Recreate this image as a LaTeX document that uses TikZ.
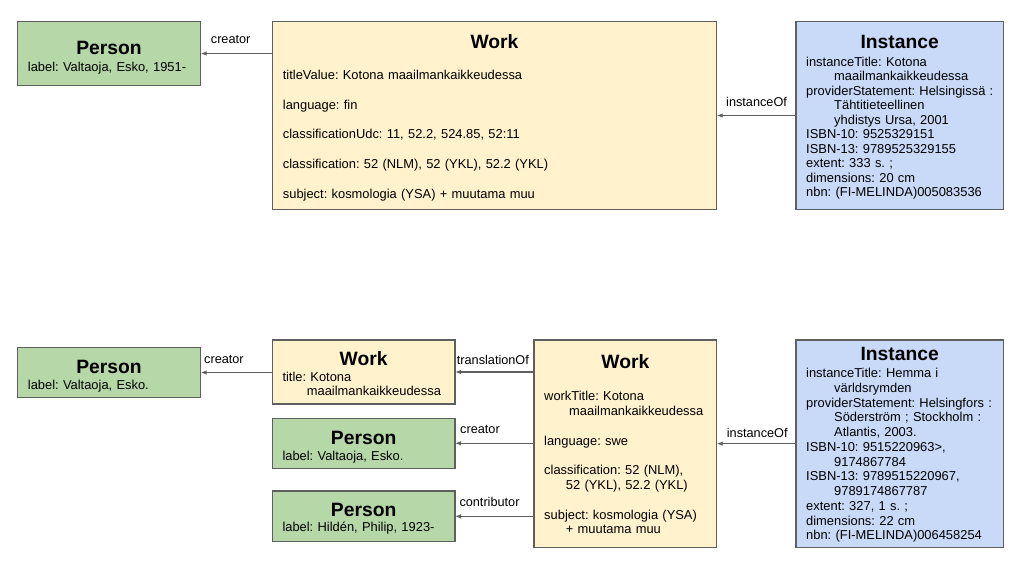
\documentclass[tikz,border=0pt]{standalone}
\usepackage{fontspec}
\setmainfont{Liberation Sans}
\usetikzlibrary{arrows.meta}
\definecolor{pgreen}{HTML}{B6D7A8}
\definecolor{wyellow}{HTML}{FFF2CC}
\definecolor{iblue}{HTML}{C9DAF8}
\definecolor{edgegray}{HTML}{5F5F5F}
\frenchspacing
\begin{document}
\frenchspacing
\begin{tikzpicture}[x=1pt,y=-1pt,
  box/.style={draw=edgegray, line width=1.1pt, rectangle, anchor=north west, inner sep=0pt, outer sep=0pt},
  ttl/.style={font=\fontsize{19.3}{22}\selectfont\bfseries, anchor=base, inner sep=0pt},
  body/.style={anchor=base west, inner sep=0pt, align=left},
  lbl/.style={font=\fontsize{12.7}{14}\selectfont, anchor=base west, inner sep=0pt},
  arr/.style={draw=edgegray, line width=1.1pt, -{Latex[length=6pt,width=4.5pt]}}
]
\useasboundingbox (0,0) rectangle (1024,576);
\fill[white] (0,0) rectangle (1024,576);

% ---------- top row ----------
\node[box, fill=pgreen, minimum width=183.4pt, minimum height=63.6pt] (p1) at (17.3,21.7) {};
\node[box, fill=wyellow, minimum width=444.4pt, minimum height=187.6pt] (w1) at (272.3,21.7) {};
\node[box, fill=iblue, minimum width=207.3pt, minimum height=187.6pt] (i1) at (796,21.7) {};

\node[ttl] (p1t) at (109,54.3) {Person};
\node[body, font=\fontsize{12.9}{14.6}\selectfont, text width=170pt] (p1b) at (27.7,71) {label: Valtaoja, Esko, 1951-};

\node[ttl] (w1t) at (494.5,48.3) {Work};
\node[body, font=\fontsize{12.9}{29.8}\selectfont, text width=420pt] (w1b) at (282.7,79.3)
  {titleValue: Kotona maailmankaikkeudessa\\
   language: fin\\
   classificationUdc: 11, 52.2, 524.85, 52:11\\
   classification: 52 (NLM), 52 (YKL), 52.2 (YKL)\\
   subject: kosmologia (YSA) + muutama muu};

\node[ttl] (i1t) at (899.65,48.3) {Instance};
\node[body, font=\fontsize{12.9}{14.52}\selectfont, text width=193pt] (i1b) at (806,66)
  {instanceTitle: Kotona\\
   \hspace*{28pt}maailmankaikkeudessa\\
   providerStatement: Helsingissä :\\
   \hspace*{28pt}Tähtitieteellinen\\
   \hspace*{28pt}yhdistys Ursa, 2001\\
   ISBN-10: 9525329151\\
   ISBN-13: 9789525329155\\
   extent: 333 s. ;\\
   dimensions: 20 cm\\
   nbn: (FI-MELINDA)005083536};

\draw[arr] (w1.west |- p1.east) -- (p1.east);
\draw[arr] (i1.west) -- (w1.east);
\node[lbl] (l1) at (210.7,43.3) {creator};
\node[lbl] (l2) at (726,106.7) {instanceOf};

% ---------- bottom row ----------
\node[box, fill=pgreen, minimum width=183.4pt, minimum height=50.4pt] (p2) at (17.3,347.3) {};
\node[box, fill=wyellow, minimum width=182.7pt, minimum height=64pt] (w2) at (272.3,340) {};
\node[box, fill=pgreen, minimum width=182.7pt, minimum height=50pt] (p3) at (272.3,418.3) {};
\node[box, fill=pgreen, minimum width=182.7pt, minimum height=50.7pt] (p4) at (272.3,491) {};
\node[box, fill=wyellow, minimum width=182.7pt, minimum height=207.3pt] (w3) at (534,340) {};
\node[box, fill=iblue, minimum width=207.3pt, minimum height=207.3pt] (i2) at (796,340) {};

\node[ttl] (p2t) at (109,373.3) {Person};
\node[body, font=\fontsize{12.9}{14.6}\selectfont, text width=170pt] (p2b) at (27.7,389.3) {label: Valtaoja, Esko.};

\node[ttl] (w2t) at (363.65,365) {Work};
\node[body, font=\fontsize{12.9}{14}\selectfont, text width=168pt] (w2b) at (282.3,381.7)
  {title: Kotona\\
   \hspace*{24.4pt}maailmankaikkeudessa};

\node[ttl] (p3t) at (363.65,444.3) {Person};
\node[body, font=\fontsize{12.9}{14.6}\selectfont, text width=168pt] (p3b) at (282.3,460) {label: Valtaoja, Esko.};

\node[ttl] (p4t) at (363.65,516.7) {Person};
\node[body, font=\fontsize{12.9}{14.6}\selectfont, text width=168pt] (p4b) at (282.3,531.7) {label: Hildén, Philip, 1923-};

\node[ttl] (w3t) at (625.35,368.3) {Work};
\node[body, font=\fontsize{12.9}{14.8}\selectfont, text width=168pt] (w3b) at (544,400.7)
  {workTitle: Kotona\\
   \hspace*{25pt}maailmankaikkeudessa\\[14.8pt]
   language: swe\\[14.8pt]
   classification: 52 (NLM),\\
   \hspace*{21.7pt}52 (YKL), 52.2 (YKL)\\[14.8pt]
   subject: kosmologia (YSA)\\
   \hspace*{21.7pt}+ muutama muu};

\node[ttl] (i2t) at (899.65,360.7) {Instance};
\node[body, font=\fontsize{12.9}{14.75}\selectfont, text width=193pt] (i2b) at (806,377.7)
  {instanceTitle: Hemma i\\
   \hspace*{28pt}världsrymden\\
   providerStatement: Helsingfors :\\
   \hspace*{28pt}Söderström ; Stockholm :\\
   \hspace*{28pt}Atlantis, 2003.\\
   ISBN-10: 9515220963>,\\
   \hspace*{28pt}9174867784\\
   ISBN-13: 9789515220967,\\
   \hspace*{28pt}9789174867787\\
   extent: 327, 1 s. ;\\
   dimensions: 22 cm\\
   nbn: (FI-MELINDA)006458254};

\draw[arr] (w2.west |- p2.east) -- (p2.east);
\draw[arr] (w3.west |- w2.east) -- (w2.east);
\draw[arr] (w3.west |- p3.east) -- (p3.east);
\draw[arr] (w3.west |- p4.east) -- (p4.east);
\draw[arr] (i2.west) -- (w3.east);
\node[lbl] (l3) at (204,363.3) {creator};
\node[lbl] (l4) at (456.7,364.3) {translationOf};
\node[lbl] (l5) at (460,433.3) {creator};
\node[lbl] (l6) at (459.3,506.7) {contributor};
\node[lbl] (l7) at (726.7,437.3) {instanceOf};
\end{tikzpicture}
\end{document}
